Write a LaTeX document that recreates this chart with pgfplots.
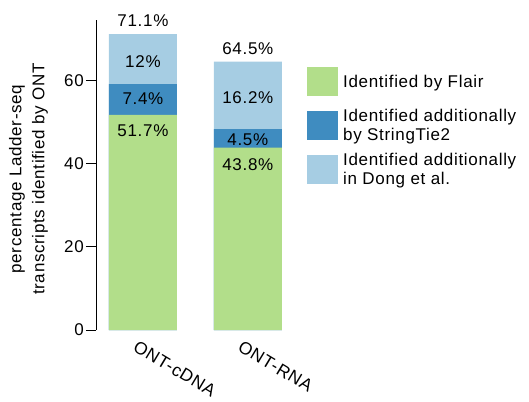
\documentclass[border=0pt]{standalone}
\usepackage{pgfplots}
\pgfplotsset{compat=1.18}
\usepackage{fontspec}
\setmainfont{Liberation Sans}[LetterSpace=4]
\definecolor{cgreen}{HTML}{B2DE8A}
\definecolor{cdark}{HTML}{3F8CC0}
\definecolor{clight}{HTML}{A6CDE3}
\newcommand{\fs}{\fontsize{17}{19}\selectfont}
\begin{document}
\begin{tikzpicture}
\useasboundingbox (0,0) rectangle (529pt,401pt);
\begin{axis}[
  at={(96pt,71pt)}, anchor=south west, scale only axis,
  width=199pt, height=310pt,
  xmin=-0.4476, xmax=1.45, ymin=0, ymax=74.5,
  ybar=0pt, bar width=68pt, bar shift=0pt,
  separate axis lines,
  axis y line*=left, axis x line*=bottom,
  x axis line style={draw=none},
  y axis line style={line width=1pt, black},
  xtick={0,1}, xticklabels={ONT-cDNA,ONT-RNA},
  ytick={0,20,40,60},
  tick align=outside, major tick length=10pt,
  ytick style={line width=1pt, black},
  xtick style={draw=none},
  /pgf/number format/assume math mode=true,
  tick label style={font=\fs},
  yticklabel style={inner sep=2pt},
  xticklabel style={xshift=-5pt, yshift=2pt, rotate=-31, anchor=north west, inner sep=1pt, font=\fontsize{17.5}{19}\selectfont},
  ylabel={percentage Ladder-seq\\transcripts identified by ONT},
  every axis y label/.style={at={(axis description cs:-0.241,0.487)}, rotate=90, anchor=south, align=center, inner sep=0pt, font=\fontsize{17}{23}\selectfont},
  clip=false,
  legend image code/.code={\draw[#1, draw=none] (0pt,-14.5pt) rectangle (31pt,14.5pt);},
  legend cell align=left, reverse legend,
  legend style={at={(axis description cs:1.0603,0.8597)}, anchor=north west, draw=none, fill=none, inner sep=0pt, row sep=8pt, column sep=5pt, font=\fs, nodes={minimum height=36pt, inner ysep=0pt, inner xsep=0pt, align=left}},
]
% cumulative tops: Flair, +StringTie2, +Dong et al.
\addplot[fill=clight, draw=none] coordinates {(0,71.1) (1,64.5)};
\addplot[fill=cdark, draw=none] coordinates {(0,59.1) (1,48.3)};
\addplot[fill=cgreen, draw=none] coordinates {(0,51.7) (1,43.8)};
\legend{{Identified additionally\\in Dong et al.}, {Identified additionally\\by StringTie2}, Identified by Flair}
\node[font=\fs] at (axis cs:0,74.3) {71.1\%};
\node[font=\fs] at (axis cs:0,64.4) {12\%};
\node[font=\fs] at (axis cs:0,55.5) {7.4\%};
\node[font=\fs] at (axis cs:0,48.0) {51.7\%};
\node[font=\fs] at (axis cs:1,67.5) {64.5\%};
\node[font=\fs] at (axis cs:1,55.9) {16.2\%};
\node[font=\fs] at (axis cs:1,45.8) {4.5\%};
\node[font=\fs] at (axis cs:1,39.8) {43.8\%};
\end{axis}
\end{tikzpicture}
\end{document}
